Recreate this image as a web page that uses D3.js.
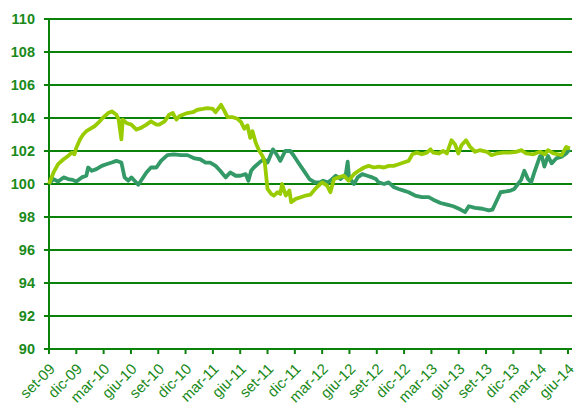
<!DOCTYPE html>
<html>
<head>
<meta charset="utf-8">
<script src="https://cdn.jsdelivr.net/npm/d3@7"></script>
<style>
  body { margin: 0; background: #fff; }
  svg { display: block; }
</style>
</head>
<body>
<div id="chart"></div>
<script>
// tick labels, one every 3 months starting set-09
var monthLabels = ["set-09", "dic-09", "mar-10", "giu-10", "set-10", "dic-10", "mar-11", "giu-11",
    "set-11", "dic-11", "mar-12", "giu-12", "set-12", "dic-12", "mar-13", "giu-13",
    "set-13", "dic-13", "mar-14", "giu-14"];
var yTicks = [90, 92, 94, 96, 98, 100, 102, 104, 106, 108, 110];

// [months since set-09, index value]
var darkSeries = [[0,100.0],[0.5,100.3],[1.0,100.15],[1.6,100.4],[2.1,100.3],[2.6,100.25],[3.0,100.15],[3.6,100.4],
    [4.1,100.5],[4.3,101.0],[4.7,100.8],[5.2,100.9],[5.8,101.1],[6.3,101.2],[6.9,101.3],[7.4,101.4],[7.95,101.3],
    [8.3,100.4],[8.7,100.2],[9.05,100.4],[9.4,100.2],[9.8,99.95],[10.1,100.2],[10.7,100.7],[11.2,101.0],[11.8,101.0],
    [12.3,101.4],[13.0,101.75],[13.7,101.8],[14.5,101.75],[15.2,101.75],[16.0,101.55],[16.6,101.5],[17.2,101.3],
    [17.7,101.3],[18.3,101.1],[18.8,100.8],[19.4,100.4],[19.9,100.7],[20.5,100.5],[21.0,100.5],[21.6,100.6],
    [21.9,100.2],[22.2,100.8],[22.5,101.0],[23.1,101.3],[23.6,101.5],[24.0,101.3],[24.3,101.7],[24.6,102.1],
    [25.0,101.8],[25.4,101.4],[25.95,102.0],[26.5,102.0],[26.9,101.7],[27.5,101.2],[28.0,100.8],[28.6,100.3],
    [29.2,100.1],[29.75,100.1],[30.1,100.2],[30.6,100.1],[30.9,100.2],[31.5,100.5],[32.0,100.3],[32.6,100.6],
    [32.8,101.35],[32.95,100.4],[33.5,100.0],[33.9,100.4],[34.4,100.6],[34.95,100.5],[35.5,100.4],[35.9,100.3],
    [36.2,100.1],[36.8,100.0],[37.3,100.1],[37.9,99.8],[38.4,99.7],[38.95,99.6],[39.5,99.5],[40.2,99.3],
    [40.95,99.2],[41.7,99.2],[42.2,99.05],[43.0,98.85],[43.7,98.75],[44.4,98.65],[45.2,98.45],[45.7,98.3],
    [46.1,98.65],[46.8,98.55],[47.6,98.5],[48.3,98.4],[48.7,98.45],[49.05,98.85],[49.6,99.5],[50.2,99.55],
    [50.7,99.6],[51.1,99.7],[51.5,100.0],[51.85,100.25],[52.2,100.8],[52.6,100.3],[52.95,100.1],[53.3,100.7],
    [53.9,101.65],[54.1,101.75],[54.4,101.05],[54.8,101.7],[55.2,101.25],[55.7,101.55],[56.3,101.65],
    [56.8,101.85],[57.2,102.1]];

var lightSeries = [[0,100.0],[0.5,100.7],[1.0,101.2],[1.6,101.5],[2.1,101.7],[2.5,101.9],[2.8,101.8],[3.0,102.2],
    [3.4,102.7],[3.75,103.0],[4.1,103.2],[4.7,103.4],[5.0,103.5],[5.4,103.7],[5.9,104.0],[6.5,104.3],[6.9,104.4],
    [7.4,104.2],[7.65,103.9],[7.95,102.7],[8.1,103.9],[8.5,103.7],[9.05,103.6],[9.6,103.3],[10.1,103.4],
    [10.7,103.6],[11.2,103.8],[11.8,103.6],[12.1,103.6],[12.7,103.8],[13.2,104.2],[13.6,104.3],[14.0,103.9],
    [14.3,104.1],[14.7,104.2],[15.2,104.3],[15.8,104.35],[16.3,104.5],[16.9,104.55],[17.4,104.6],[18.0,104.55],
    [18.3,104.35],[18.9,104.8],[19.25,104.45],[19.6,104.05],[20.2,104.05],[20.7,103.95],[21.1,103.75],
    [21.45,103.35],[21.8,103.55],[22.1,102.8],[22.35,103.2],[22.7,102.5],[23.1,102.0],[23.45,101.7],[23.7,101.3],
    [24.0,99.7],[24.4,99.4],[24.7,99.3],[25.1,99.5],[25.4,99.4],[25.6,100.0],[26.0,99.3],[26.4,99.6],[26.6,98.9],
    [27.1,99.1],[27.65,99.2],[28.2,99.3],[28.7,99.35],[29.4,99.8],[30.0,100.1],[30.55,99.9],[30.9,99.5],
    [31.3,100.3],[31.8,100.4],[32.4,100.5],[32.9,100.2],[33.5,100.6],[34.0,100.8],[34.6,101.0],[35.1,101.1],
    [35.7,101.0],[36.2,101.05],[36.8,101.0],[37.3,101.1],[37.85,101.1],[38.4,101.2],[38.95,101.3],[39.5,101.4],
    [39.9,101.8],[40.4,101.9],[40.95,101.8],[41.5,101.9],[41.9,102.1],[42.2,101.9],[42.8,101.85],[43.3,102.0],
    [43.7,101.85],[44.2,102.65],[44.6,102.4],[44.95,101.85],[45.3,102.35],[45.8,102.65],[46.25,102.25],
    [46.8,101.95],[47.3,102.05],[48.1,101.95],[48.6,101.75],[49.2,101.85],[49.9,101.9],[50.6,101.9],
    [51.3,101.95],[51.9,102.05],[52.4,101.85],[53.2,101.8],[53.9,101.95],[54.45,101.8],[54.8,102.05],
    [55.4,101.85],[56.3,101.75],[56.8,102.25],[57.2,102.15]];

var width = 574, height = 403;
var plotLeft = 49, plotRight = 572, plotTop = 19, plotBottom = 349;
var gridColor = "#0a820a", textColor = "#1a8a1a";

var svg = d3.select("#chart").append("svg")
    .attr("width", width).attr("height", height)
    .style("background-color", "white");

// one tick every 3 months, last label sits just before the right edge
var x = d3.scaleLinear().domain([0, 57]).range([plotLeft, 568]);
var y = d3.scaleLinear().domain([90, 110]).range([plotBottom, plotTop]);

//horizontal gridlines plus small ticks left of the axis
svg.append("g").selectAll("line")
    .data(yTicks)
    .enter().append("line")
    .attr("x1", plotLeft - 5).attr("x2", plotRight)
    .attr("y1", function(d) { return y(d); })
    .attr("y2", function(d) { return y(d); })
    .style("stroke", gridColor).style("stroke-width", 2);

svg.append("g").selectAll("text")
    .data(yTicks)
    .enter().append("text")
    .attr("x", 35).attr("y", function(d) { return y(d); })
    .attr("dy", "0.36em")
    .attr("text-anchor", "end")
    .attr("font-family", "Liberation Sans, Arial, sans-serif")
    .attr("font-size", "14.5px").attr("font-weight", "bold")
    .attr("fill", textColor)
    .text(function(d) { return d; });

//vertical axis line
svg.append("line")
    .attr("x1", plotLeft).attr("x2", plotLeft).attr("y1", plotTop).attr("y2", plotBottom + 1)
    .style("stroke", gridColor).style("stroke-width", 2);

//x axis ticks and rotated labels
var xTicks = monthLabels.map(function(d, i) { return i * 3; });
var xg = svg.append("g");
xg.selectAll("line")
    .data(xTicks)
    .enter().append("line")
    .attr("x1", function(d) { return x(d); }).attr("x2", function(d) { return x(d); })
    .attr("y1", plotBottom).attr("y2", plotBottom + 5)
    .style("stroke", gridColor).style("stroke-width", 2);

xg.selectAll("text")
    .data(monthLabels)
    .enter().append("text")
    .attr("transform", function(d, i) { return "translate(" + (x(xTicks[i]) + 3) + "," + (plotBottom + 17) + ") rotate(-45)"; })
    .attr("text-anchor", "end")
    .attr("dy", "0.36em")
    .attr("font-family", "Liberation Sans, Arial, sans-serif")
    .attr("font-size", "15px")
    .attr("fill", textColor)
    .text(function(d) { return d; });

//the two series
var line = d3.line()
    .x(function(d) { return x(d[0]); })
    .y(function(d) { return y(d[1]); });

svg.append("path")
    .datum(darkSeries)
    .attr("d", line)
    .style("fill", "none").style("stroke", "#339966")
    .style("stroke-width", 3.8).style("stroke-linejoin", "round");

svg.append("path")
    .datum(lightSeries)
    .attr("d", line)
    .style("fill", "none").style("stroke", "#99cc00")
    .style("stroke-width", 3.8).style("stroke-linejoin", "round");
</script>
</body>
</html>
